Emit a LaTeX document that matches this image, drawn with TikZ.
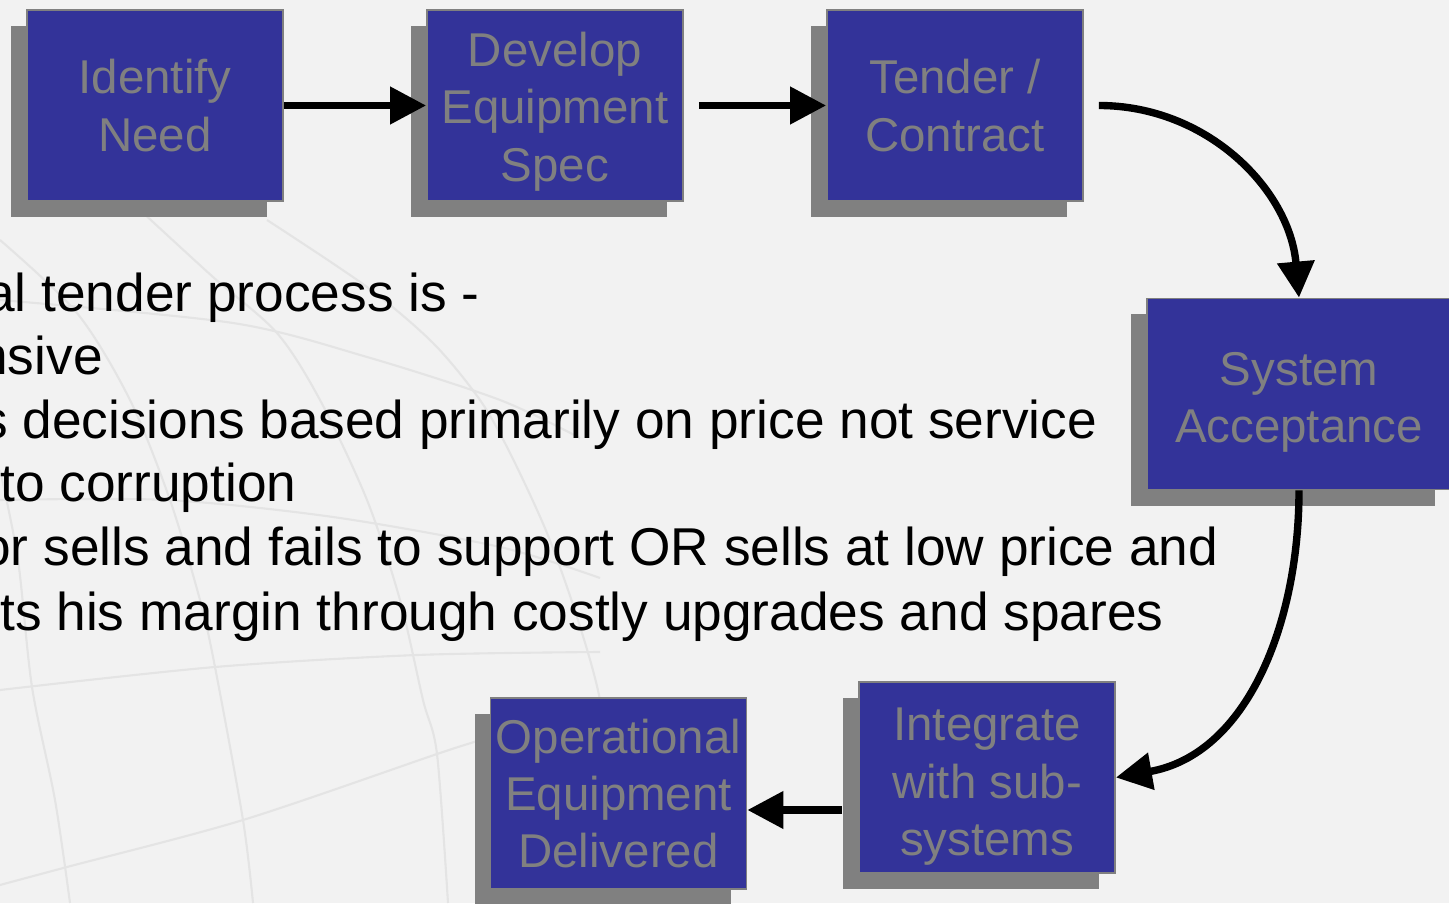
\documentclass[tikz,border=0pt]{standalone}
\usepackage{fontspec}
\setmainfont{Liberation Sans}
\usetikzlibrary{arrows.meta,shadows}
\definecolor{boxblue}{HTML}{333399}
\definecolor{boxgray}{HTML}{808080}
\definecolor{paper}{HTML}{F2F2F2}
\definecolor{globeline}{HTML}{E4E4E4}

\begin{document}
\begin{tikzpicture}
  \tikzstyle{box_style} = [rectangle, draw=boxgray, line width=1pt, fill=boxblue, text=boxgray,
    minimum width=5.12cm, minimum height=3.82cm, inner sep=0pt, align=center,
    font=\fontsize{27}{32.6}\selectfont,
    drop shadow={shadow xshift=-0.32cm, shadow yshift=-0.32cm, fill=boxgray, opacity=1}]
  \tikzstyle{arrow_style} = [draw=black, line width=4.2pt, -{Triangle[length=0.72cm, width=0.72cm]}]
  \tikzstyle{text_style} = [anchor=base west, inner sep=0pt, font=\fontsize{30.3}{36}\selectfont]
  \tikzstyle{globe_style} = [draw=globeline, line width=1.2pt]

  \useasboundingbox (0,0) rectangle (28.98,18.06);
  \clip (0,0) rectangle (28.98,18.06);
  \fill[paper] (0,0) rectangle (28.98,18.06);

  % faint globe grid in the background
  \draw[globe_style] plot[smooth] coordinates {(0,13.26) (1.54,11.80) (2.60,10.06) (3.40,8.06) (4.00,6.06) (4.30,4.72) (4.86,1.66) (5.06,0)};
  \draw[globe_style] plot[smooth] coordinates {(2.80,13.86) (4.26,12.52) (5.54,11.40) (6.40,10.06) (7.34,8.06) (8.00,6.06) (8.46,4.06) (8.74,2.98) (8.96,0)};
  \draw[globe_style] plot[smooth] coordinates {(5.34,13.66) (7.34,12.32) (8.66,11.20) (9.60,10.06) (10.20,9.00) (10.94,7.40) (11.54,5.72) (12.00,4.06) (12.24,2.06) (12.36,0)};
  \draw[globe_style] plot[smooth] coordinates {(0,8.66) (0.36,6.86) (0.64,4.32) (1.10,2.06) (1.40,0)};
  \draw[globe_style] plot[smooth] coordinates {(0,12.06) (4.66,11.60) (7.34,10.92) (10.00,10.06) (11.60,9.30)};
  \draw[globe_style] plot[smooth] coordinates {(0,8.06) (3.34,8.06) (6.66,7.72) (10.00,7.12) (12.00,6.50)};
  \draw[globe_style] plot[smooth] coordinates {(0,4.26) (4.30,4.72) (8.34,4.96) (12.00,5.02)};
  \draw[globe_style] plot[smooth] coordinates {(0,0.36) (1.34,0.72) (4.86,1.66) (8.74,2.98) (9.60,3.26) (11.20,3.82)};

  % process boxes (the strut pushes the text of some boxes a little lower)
  \node[box_style] (need) at (3.10,15.95) {Identify\\Need};
  \node[box_style] (spec) at (11.10,15.95) {\rule{0pt}{26.5pt}Develop\\Equipment\\Spec};
  \node[box_style] (tender) at (19.10,15.95) {Tender /\\Contract};
  \node[box_style, minimum width=6.08cm] (accept) at (25.98,10.18) {\rule{0pt}{28pt}System\\Acceptance};
  \node[box_style] (integ) at (19.74,2.51) {\rule{0pt}{29pt}Integrate\\with sub-\\systems};
  \node[box_style] (deliv) at (12.37,2.19) {Operational\\Equipment\\Delivered};

  % text lines
  \node[text_style] (txt1) at (-0.30,11.82) {al tender process is -};
  \node[text_style] (txt2) at (-0.44,10.56) {nsive};
  \node[text_style] (txt3) at (-0.38,9.30) {s decisions based primarily on price not service};
  \node[text_style] (txt4) at (0,8.02) {to corruption};
  \node[text_style] (txt5) at (-0.38,6.76) {or sells and fails to support OR sells at low price and};
  \node[text_style] (txt6) at (0,5.46) {ts his margin through costly upgrades and spares};

  % flow arrows
  \draw[arrow_style] (need) -- (spec);
  \draw[arrow_style, shorten <=0.3cm] (spec) -- (tender);
  \draw[arrow_style] ([xshift=0.3cm]tender.east) to[out=0, in=95] (accept.north);
  \draw[arrow_style] (accept.south) to[out=-90, in=10] (integ.east);
  \draw[arrow_style] ([xshift=-0.32cm, yshift=-0.65cm]integ.west) -- ([yshift=-0.33cm]deliv.east);
\end{tikzpicture}
\end{document}
